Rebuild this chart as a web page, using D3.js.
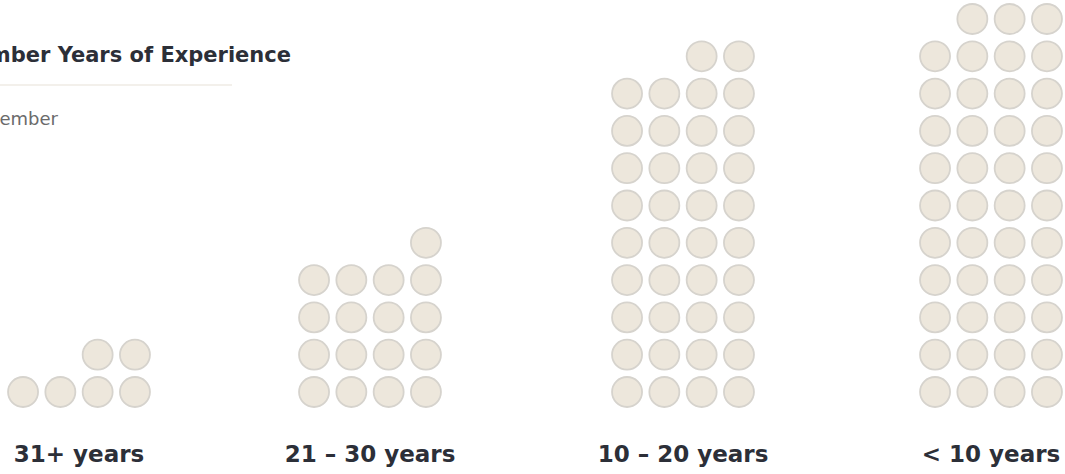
<!DOCTYPE html>
<html>
<head>
<meta charset="utf-8">
<script src="https://cdn.jsdelivr.net/npm/d3@7"></script>
<style>
  html, body { margin: 0; padding: 0; background: #ffffff; overflow: hidden; }
  svg { display: block; }
</style>
</head>
<body>
<svg id="chart" width="1065" height="474"></svg>
<script>
// Members grouped by years of experience; one circle per member
const categories = ["31+ years", "21 – 30 years", "10 – 20 years", "< 10 years"];
const memberCounts = [6, 17, 38, 43];
const titleText = "Member Years of Experience";
const subtitleText = "Each circle = 1 member";

const W = 1065, H = 474;
const perRow = 4;
const step = 37.3;        // distance between neighbouring circle centres
const radius = 15;
const baseY = 392;        // centre of the bottom row

const svg = d3.select("#chart");

// Column centres of the four groups
const groupX = d3.scaleOrdinal()
  .domain(categories)
  .range([79, 370, 683, 991]);

// Position inside a group: column (right-aligned partial rows) and row
const colX = d3.scaleLinear().domain([0, perRow - 1]).range([-1.5 * step, 1.5 * step]);
const rowY = d3.scaleLinear().domain([0, 1]).range([baseY, baseY - step]);

// Title block
svg.append("text")
  .attr("x", 291).attr("y", 62)
  .attr("text-anchor", "end")
  .attr("font-family", "'DejaVu Sans', sans-serif")
  .attr("font-weight", 700)
  .attr("font-size", 21)
  .attr("fill", "#2c2f38")
  .text(titleText);

svg.append("line")
  .attr("x1", -200).attr("x2", 232)
  .attr("y1", 85).attr("y2", 85)
  .attr("stroke", "#efebe5")
  .attr("stroke-width", 1.5);

svg.append("text")
  .attr("x", 58).attr("y", 125)
  .attr("text-anchor", "end")
  .attr("font-family", "'DejaVu Sans', sans-serif")
  .attr("font-size", 18)
  .attr("fill", "#6b6b6b")
  .text(subtitleText);

const groups = svg.selectAll("g.group")
  .data(categories.map((c, i) => ({ category: c, count: memberCounts[i] })))
  .join("g")
  .attr("class", "group")
  .attr("transform", d => `translate(${groupX(d.category)},0)`);

groups.selectAll("circle")
  .data(d => d3.range(d.count))
  .join("circle")
  .attr("cx", i => colX(perRow - 1 - (i % perRow)))
  .attr("cy", i => rowY(Math.floor(i / perRow)))
  .attr("r", radius)
  .attr("fill", "#ede7dc")
  .attr("stroke", "#d6d3cd")
  .attr("stroke-width", 1.8);

groups.append("text")
  .attr("x", 0).attr("y", 462)
  .attr("text-anchor", "middle")
  .attr("font-family", "'DejaVu Sans', sans-serif")
  .attr("font-weight", 700)
  .attr("font-size", 23)
  .attr("fill", "#2c2f38")
  .text(d => d.category);
</script>
</body>
</html>
